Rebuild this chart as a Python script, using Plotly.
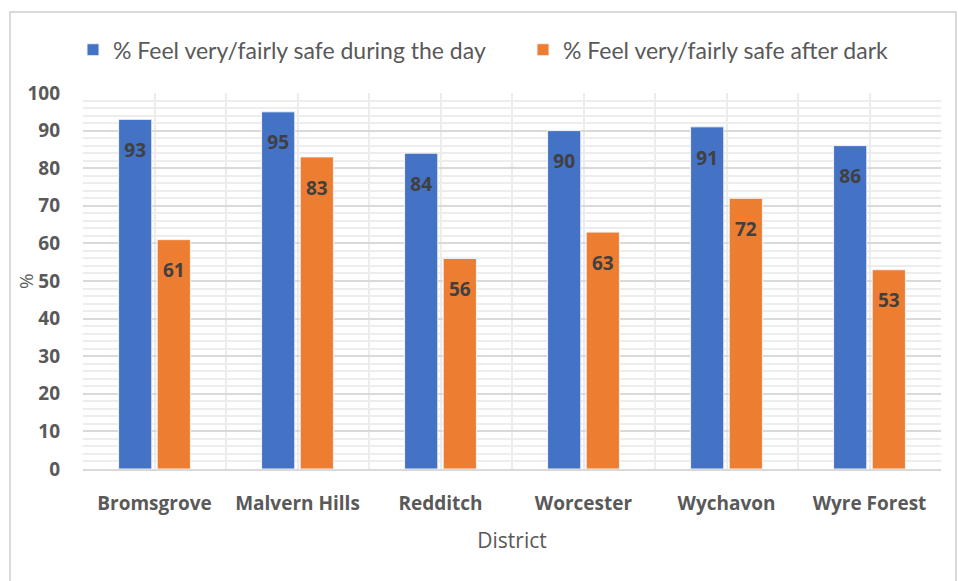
import plotly.graph_objects as go

districts = ["Bromsgrove", "Malvern Hills", "Redditch", "Worcester", "Wychavon", "Wyre Forest"]
safe_day = [93, 95, 84, 90, 91, 86]
safe_dark = [61, 83, 56, 63, 72, 53]

day_name = "% Feel very/fairly safe during the day"
dark_name = "% Feel very/fairly safe after dark"

BLUE = "#4472c4"
ORANGE = "#ed7d31"
LABEL = "#404040"
AXIS_TXT = "#595959"
FONT = "Open Sans"

x_pos = list(range(len(districts)))

fig = go.Figure()
for name, vals, color, leg in [(day_name, safe_day, BLUE, "legend"),
                               (dark_name, safe_dark, ORANGE, "legend2")]:
    fig.add_trace(go.Bar(
        x=x_pos, y=vals, name=name, legend=leg,
        marker=dict(color=color, line=dict(color="#f2f2f2", width=1)),
        # a small blank line above each value pushes the label down from the bar end
        text=["<span style='font-size:9px'> </span><br>" + str(v) for v in vals],
        textposition="inside", insidetextanchor="end",
        textangle=0,
        textfont=dict(family=FONT, size=19, color=LABEL, weight="bold"),
        cliponaxis=False,
    ))

legend_style = dict(
    orientation="h", xanchor="left", y=1.115, yanchor="middle",
    font=dict(family="Lato", size=23, color=AXIS_TXT),
    bgcolor="rgba(0,0,0,0)",
)

fig.update_layout(
    width=958, height=581,
    margin=dict(l=83, r=17, t=93, b=112),
    paper_bgcolor="white", plot_bgcolor="white",
    barmode="group", bargap=0.46, bargroupgap=0.14,
    uniformtext=dict(mode=False),
    font=dict(family=FONT, color=AXIS_TXT),
    legend=dict(x=(73 - 83) / 858, **legend_style),
    legend2=dict(x=(523 - 83) / 858, **legend_style),
    showlegend=True,
)

fig.update_xaxes(
    range=[-0.5, len(districts) - 0.5],
    tickmode="array", tickvals=x_pos, ticktext=districts,
    tickfont=dict(family=FONT, size=19, color=AXIS_TXT, weight="bold"),
    ticks="", ticklabelstandoff=16,
    showgrid=True, gridcolor="#ececec", gridwidth=2,
    minor=dict(tick0=-0.5, dtick=1, showgrid=True, gridcolor="#ececec", gridwidth=2),
    showline=True, linecolor="#d9d9d9", linewidth=2,
    zeroline=False,
    title=dict(text="District", font=dict(family=FONT, size=21, color=AXIS_TXT), standoff=19),
)

fig.update_yaxes(
    range=[0, 100], dtick=10,
    tickfont=dict(family=FONT, size=19, color=AXIS_TXT, weight="bold"),
    ticks="", ticklabelstandoff=22,
    showgrid=True, gridcolor="#d9d9d9", gridwidth=2,
    minor=dict(dtick=2, showgrid=True, gridcolor="#ededed", gridwidth=2),
    zeroline=False, showline=False,
)

# y-axis title sits over the tick labels, near the frame edge
fig.add_annotation(
    text="%", textangle=-90, showarrow=False,
    xref="paper", yref="paper", x=(26 - 83) / 858, y=0.5,
    xanchor="center", yanchor="middle",
    font=dict(family=FONT, size=19, color=AXIS_TXT),
)

# outer chart frame
fig.add_shape(
    type="rect", xref="paper", yref="paper",
    x0=(10 - 83) / 858, x1=(956 - 83) / 858,
    y0=(469 - 590) / 376, y1=(469 - 12) / 376,
    line=dict(color="#d9d9d9", width=2), fillcolor="rgba(0,0,0,0)", layer="below",
)

fig.write_html("out.html")
